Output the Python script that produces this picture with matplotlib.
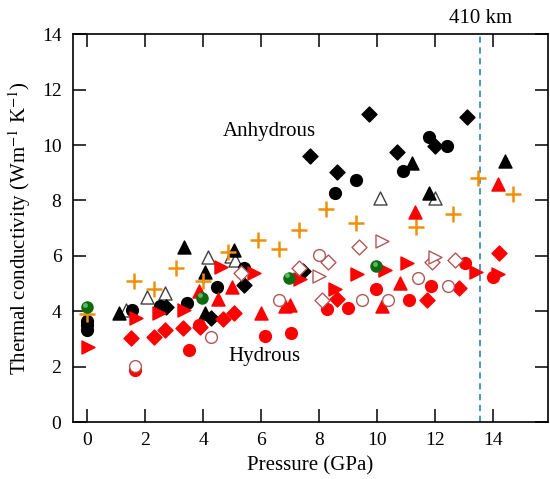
import matplotlib
matplotlib.use("Agg")
import matplotlib.pyplot as plt

plt.rcParams['font.family'] = ['Liberation Serif', 'DejaVu Serif']
plt.rcParams['mathtext.fontset'] = 'stix'

# anhydrous (black)
blk_circ_x = [0, 0, 0, 1.55, 2.5, 3.46, 4.47, 5.42, 8.53, 9.28, 10.88, 11.79, 12.39]
blk_circ_y = [3.35, 3.5, 3.65, 4.05, 4.2, 4.3, 4.88, 5.55, 8.27, 8.75, 9.08, 10.28, 9.98]
blk_diam_x = [2.72, 4.27, 5.42, 7.45, 7.69, 8.61, 9.72, 10.69, 12.0, 13.08]
blk_diam_y = [4.15, 3.75, 4.95, 5.45, 9.59, 9.02, 11.1, 9.74, 9.98, 11.0]
blk_tri_x = [1.1, 3.35, 4.05, 4.06, 5.08, 11.2, 11.79, 14.4]
blk_tri_y = [3.95, 6.33, 3.95, 5.42, 6.23, 9.34, 8.27, 9.44]
open_tri_x = [1.35, 2.05, 2.69, 4.17, 4.95, 5.1, 10.09, 11.99]
open_tri_y = [4.05, 4.53, 4.65, 5.96, 6.0, 5.85, 8.1, 8.1]
plus_x = [0, 1.62, 2.31, 3.06, 4.0, 4.85, 5.88, 6.63, 7.3, 8.24, 9.28, 11.33, 12.6, 13.48, 14.69]
plus_y = [3.9, 5.1, 4.81, 5.58, 5.1, 6.15, 6.56, 6.25, 6.92, 7.7, 7.19, 7.04, 7.5, 8.82, 8.22]
green_x = [0, 3.96, 6.95, 9.97]
green_y = [4.15, 4.5, 5.22, 5.63]

# hydrous (red)
red_circ_x = [1.66, 3.52, 3.87, 6.14, 7.02, 8.27, 9.01, 9.96, 11.08, 11.87, 13.02, 14.0]
red_circ_y = [1.88, 2.62, 3.51, 3.11, 3.21, 4.09, 4.12, 4.81, 4.42, 4.93, 5.73, 5.25]
red_diam_x = [1.52, 2.29, 2.7, 3.29, 3.9, 4.67, 5.08, 8.6, 11.7, 12.82, 14.2]
red_diam_y = [3.05, 3.07, 3.33, 3.42, 3.45, 3.72, 3.93, 4.45, 4.43, 4.85, 6.11]
red_tri_x = [3.85, 4.5, 4.98, 5.99, 6.82, 7.0, 10.17, 10.78, 11.3, 14.17]
red_tri_y = [4.75, 4.44, 4.9, 3.96, 4.2, 4.22, 4.18, 5.01, 7.58, 8.58]
red_rtri_x = [0.03, 1.7, 2.49, 3.35, 4.6, 5.74, 7.35, 8.55, 9.29, 10.26, 11.03, 13.4, 14.17]
red_rtri_y = [2.73, 3.75, 3.93, 4.05, 5.61, 5.4, 5.18, 4.8, 5.35, 5.49, 5.73, 5.43, 5.36]
open_circ_x = [1.66, 4.26, 6.6, 7.99, 9.47, 10.38, 11.4, 12.43]
open_circ_y = [2.03, 3.07, 4.43, 6.03, 4.41, 4.42, 5.22, 4.91]
open_diam_x = [5.31, 7.32, 8.08, 8.32, 9.37, 11.9, 12.68]
open_diam_y = [5.37, 5.55, 4.4, 5.78, 6.33, 5.77, 5.85]
open_rtri_x = [7.99, 10.15, 11.99]
open_rtri_y = [5.29, 6.53, 5.96]

red = '#ff0000'
brown = '#b05858'
orange = '#f0900a'

fig = plt.figure(figsize=(5.5, 4.79), dpi=100)
ax = fig.add_axes([0.132, 0.118, 0.8645, 0.811])

ax.scatter(open_tri_x, open_tri_y, marker='^', s=88, facecolor='white', edgecolor='#404040', lw=1.0, zorder=2)
ax.scatter(blk_circ_x, blk_circ_y, marker='o', s=72, color='black', zorder=3)
ax.scatter(blk_diam_x, blk_diam_y, marker='D', s=58, color='black', zorder=3)
ax.scatter(blk_tri_x, blk_tri_y, marker='^', s=88, color='black', zorder=3)
ax.scatter(plus_x, plus_y, marker='+', s=130, color=orange, lw=1.8, zorder=4)
ax.scatter(red_circ_x, red_circ_y, marker='o', s=72, color=red, zorder=4)
ax.scatter(red_diam_x, red_diam_y, marker='D', s=58, color=red, zorder=4)
ax.scatter(red_tri_x, red_tri_y, marker='^', s=88, color=red, zorder=4)
ax.scatter(red_rtri_x, red_rtri_y, marker='>', s=88, color=red, zorder=4)
ax.scatter(open_circ_x, open_circ_y, marker='o', s=72, facecolor='white', edgecolor=brown, lw=1.0, zorder=5)
ax.scatter(open_diam_x, open_diam_y, marker='D', s=58, facecolor='white', edgecolor=brown, lw=1.0, zorder=5)
ax.scatter(open_rtri_x, open_rtri_y, marker='>', s=88, facecolor='white', edgecolor=brown, lw=1.0, zorder=5)
# green spheres with a small highlight
ax.scatter(green_x, green_y, marker='o', s=64, color='#0f6a12', zorder=6)
ax.scatter([v - 0.06 for v in green_x], [v + 0.08 for v in green_y], marker='o', s=12,
           color='#6fcf6f', alpha=0.8, lw=0, zorder=7)

ax.axvline(13.55, color='#3d8dc4', lw=1.3, dashes=(3.5, 2.5), zorder=1)
ax.text(13.55, 14.22, '410 km', ha='center', va='bottom', fontsize=15)
ax.text(6.29, 10.48, 'Anhydrous', ha='center', va='center', fontsize=15)
ax.text(6.11, 2.36, 'Hydrous', ha='center', va='center', fontsize=15)

ax.set_xlim(-0.5, 15.89)
ax.set_ylim(0, 14)
ax.set_xticks(range(0, 15, 2))
ax.set_yticks(range(0, 15, 2))
ax.tick_params(direction='in', length=9.5, width=1.1, top=True, right=True, labelsize=14)
ax.tick_params(axis='x', pad=7)
ax.tick_params(axis='y', pad=8)
for sp in ax.spines.values():
    sp.set_linewidth(1.2)
ax.set_xlabel('Pressure (GPa)', fontsize=15, labelpad=5)
ax.set_ylabel(r'Thermal conductivity (Wm$^{-1}$ K$^{-1}$)', fontsize=15, labelpad=6)

fig.savefig('out.png', dpi=100)
